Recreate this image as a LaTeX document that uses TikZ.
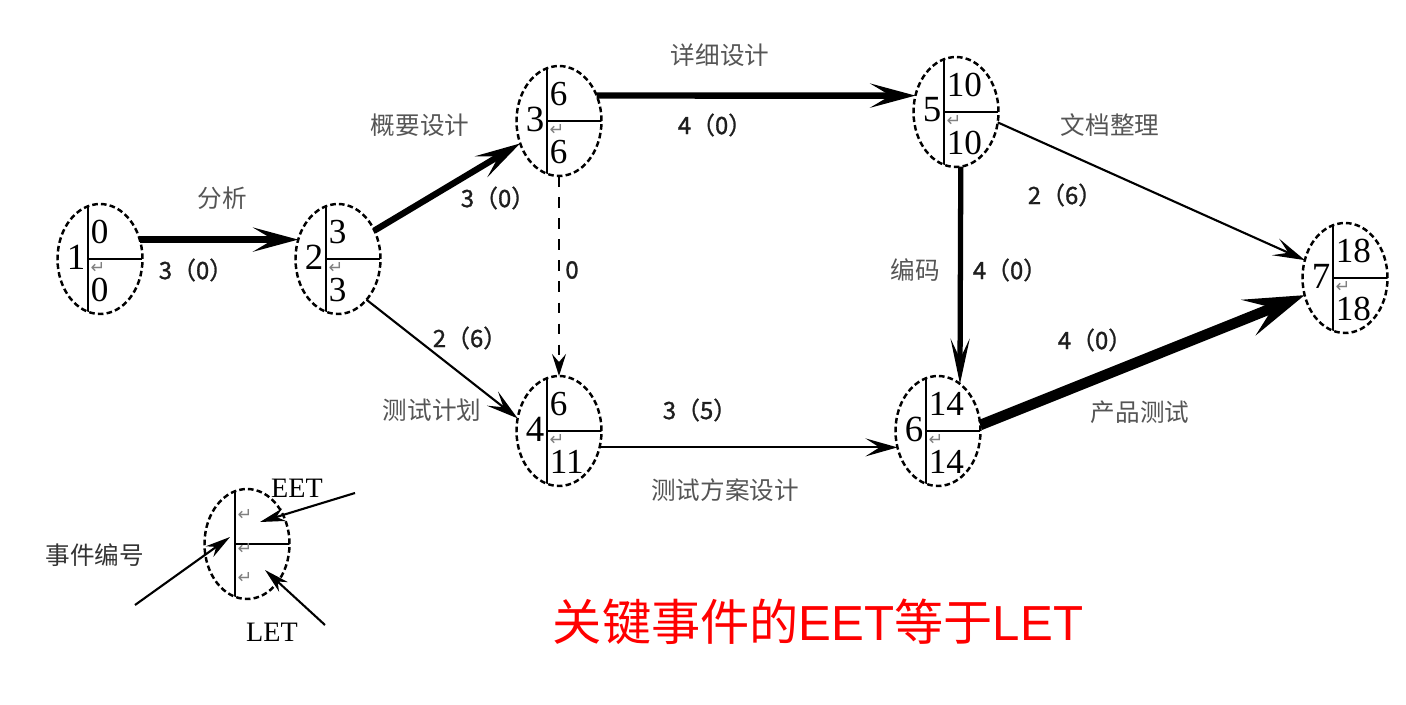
\documentclass[tikz,border=0pt]{standalone}
\usepackage{fontspec}
\setmainfont{Liberation Serif}
\newfontfamily\cjk{Noto Sans CJK SC}
\newfontfamily\cjkdur[FakeBold=1.2]{Noto Sans CJK SC}
\newfontfamily\arialfont{Liberation Sans}
\newfontfamily\symfont{DejaVu Sans}
\usetikzlibrary{arrows.meta,positioning,shapes.geometric,calc}
\definecolor{labgray}{RGB}{85,85,85}
\definecolor{numgray}{RGB}{30,30,30}
\definecolor{keyred}{RGB}{255,0,0}

\tikzset{
  evt/.style={ellipse, draw, line width=0.7pt, dash pattern=on 1.6pt off 0.9pt,
    minimum width=8.5mm, minimum height=11mm, inner sep=0pt, outer sep=0pt,
    path picture={
      \draw[solid, line width=0.8pt] ([xshift=-1.2mm]path picture bounding box.north) -- ([xshift=-1.2mm]path picture bounding box.south);
      \draw[solid, line width=0.8pt] ([xshift=-1.2mm]path picture bounding box.center) -- (path picture bounding box.east);}},
  idnum/.style={font=\fontsize{10.5}{11}\selectfont, inner sep=0.3pt, anchor=east},
  tnum/.style={font=\fontsize{10}{10}\selectfont, inner sep=0.3pt, anchor=west},
  pmark/.style={font=\symfont\fontsize{5}{5}\selectfont, text=gray, inner sep=0pt, anchor=west},
  task/.style={font=\cjk\fontsize{7}{8}\selectfont, text=labgray, inner sep=1pt},
  dur/.style={font=\cjkdur\fontsize{6.8}{8}\selectfont, text=numgray, inner sep=1pt},
  crit/.style={line width=1.8pt, -{Stealth[length=4.5mm,width=2.4mm,inset=2mm]}},
  slack/.style={line width=0.6pt, -{Stealth[length=3.2mm,width=1.8mm,inset=1.4mm]}},
  dummy/.style={line width=0.6pt, dashed, -{Stealth[length=2.2mm,width=1.4mm,inset=0.8mm]}},
  pointer/.style={line width=0.6pt, -{Stealth[length=2.5mm,width=1.3mm,inset=0.8mm]}},
}

\begin{document}
\begin{tikzpicture}
    \useasboundingbox (0,0) rectangle (14.06,7.04);
    % events: name / x / y / number / EET / LET
    \foreach \nm/\px/\py/\id/\ee/\le in {n1/1.00/4.45/1/0/0, n2/3.38/4.45/2/3/3, n3/5.59/5.83/3/6/6,
        n4/5.59/2.73/4/6/11, n5/9.56/5.92/5/10/10, n6/9.38/2.73/6/14/14, n7/13.45/4.26/7/18/18}{
        \node[evt] (\nm) at (\px,\py) {};
        \node[idnum] (\nm-id) at ([shift={(-1.3mm,0.2mm)}]\nm.center) {\id};
        \node[tnum] (\nm-e) at ([shift={(-1.1mm,2.7mm)}]\nm.center) {\ee};
        \node[tnum] (\nm-l) at ([shift={(-1.1mm,-3.1mm)}]\nm.center) {\le};
        \node[pmark] (\nm-m) at ([shift={(-1.0mm,-0.9mm)}]\nm.center) {↵};
    }
    % activities
    \draw[crit] (n1.26) -- (n2.154);
    \node[task] (t12) at (2.22,5.06) {分析};
    \node[dur] (d12) at (1.96,4.34) {3（0）};
    \draw[crit] (n2.38) -- (n3.210);
    \node[task] (t23) at (4.20,5.79) {概要设计};
    \node[dur] (d23) at (4.98,5.06) {3（0）};
    \draw[slack] (n2.305) -- (n4.163);
    \node[dur] (d24) at (4.70,3.66) {2（6）};
    \node[task] (t24) at (4.32,2.94) {测试计划};
    \draw[dummy] (n3.south) -- (n4.north);
    \node[dur] (d34) at (5.72,4.34) {0};
    \draw[crit] (n3.34) -- (n5.158);
    \node[task] (t35) at (7.20,6.49) {详细设计};
    \node[dur] (d35) at (7.15,5.79) {4（0）};
    \draw[slack] (n4.338) -- (n6.202);
    \node[dur] (d46) at (7.00,2.94) {3（5）};
    \node[task] (t46) at (7.25,2.14) {测试方案设计};
    \draw[line width=1.5pt, -{Stealth[length=4.5mm,width=1.9mm,inset=2mm]}] (n5.275) -- (n6.65);
    \node[task] (t56) at (9.15,4.34) {编码};
    \node[dur] (d56) at (10.10,4.34) {4（0）};
    \draw[slack] (n5.346) -- (n7.156);
    \node[task] (t57) at (11.10,5.79) {文档整理};
    \node[dur] (d57) at (10.65,5.09) {2（6）};
    \draw[line width=3pt, -{Stealth[length=6mm,width=3.8mm,inset=2.6mm]}] (n6.8) -- (n7.203);
    \node[dur] (d67) at (10.95,3.64) {4（0）};
    \node[task] (t67) at (11.40,2.92) {产品测试};
    % legend
    \node[evt] (lg) at (2.47,1.60) {};
    \node[pmark] (lg-m1) at ([shift={(-1.0mm,2.9mm)}]lg.center) {↵};
    \node[pmark] (lg-m2) at ([shift={(-1.0mm,-0.5mm)}]lg.center) {↵};
    \node[pmark] (lg-m3) at ([shift={(-1.0mm,-3.4mm)}]lg.center) {↵};
    \node[font=\fontsize{8}{9}\selectfont, inner sep=0.5pt] (eet) at (2.97,2.16) {EET};
    \node[font=\fontsize{8}{9}\selectfont, inner sep=0.5pt] (let) at (2.72,0.72) {LET};
    \node[task, text=black!80] (evno) at (0.95,1.49) {事件编号};
    \coordinate (eetTail) at (3.55,2.11);
    \coordinate (eetTip) at ($(lg.center)+(0.13,0.22)$);
    \coordinate (letTail) at (3.25,0.79);
    \coordinate (letTip) at ($(lg.center)+(0.18,-0.26)$);
    \coordinate (noTail) at (1.35,0.99);
    \coordinate (noTip) at ($(lg.center)+(-0.17,0.07)$);
    \draw[pointer] (eetTail) -- (eetTip);
    \draw[pointer] (letTail) -- (letTip);
    \draw[pointer] (noTail) -- (noTip);
    % note
    \node[font=\fontsize{14}{16}\selectfont, text=keyred] (keynote) at (8.18,0.82)
        {{\cjk 关键事件的}{\arialfont EET}{\cjk 等于}{\arialfont LET}};
\end{tikzpicture}
\end{document}
